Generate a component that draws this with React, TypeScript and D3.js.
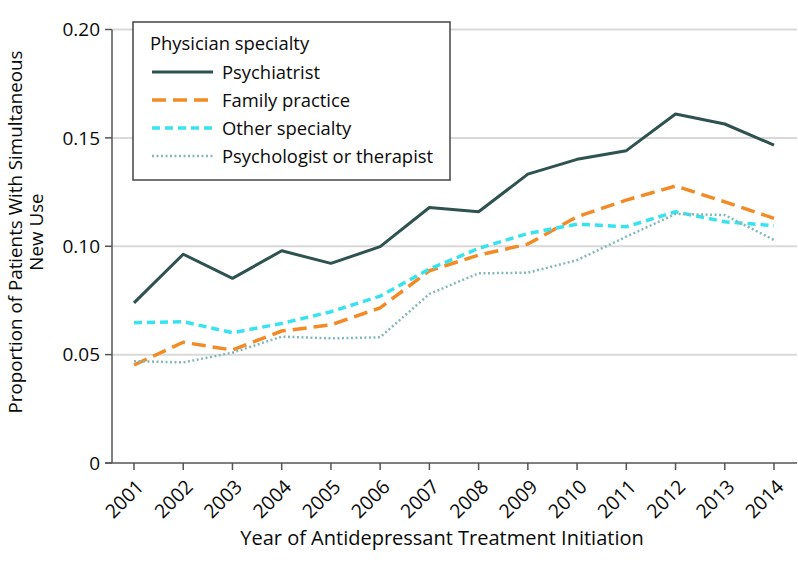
import React from "react";
import * as d3 from "d3";

const years = [2001, 2002, 2003, 2004, 2005, 2006, 2007, 2008, 2009, 2010, 2011, 2012, 2013, 2014];
const psychiatrist = [0.0739, 0.0963, 0.0852, 0.0979, 0.0921, 0.0998, 0.1179, 0.1159, 0.1333, 0.1401, 0.1441, 0.161, 0.1564, 0.1467];
const familyPractice = [0.0452, 0.0557, 0.0521, 0.0609, 0.0637, 0.0716, 0.0887, 0.0959, 0.101, 0.1136, 0.1213, 0.1278, 0.1205, 0.1129];
const otherSpecialty = [0.0647, 0.0652, 0.0601, 0.0644, 0.0698, 0.077, 0.0895, 0.099, 0.1059, 0.1102, 0.109, 0.1159, 0.1113, 0.1095];
const psychologist = [0.047, 0.0464, 0.0509, 0.0583, 0.0575, 0.058, 0.078, 0.0875, 0.0878, 0.0936, 0.1044, 0.1149, 0.1144, 0.1029];
const yTicks = [0, 0.05, 0.1, 0.15, 0.2];
const yTickLabels = ["0", "0.05", "0.10", "0.15", "0.20"];
const seriesNames = ["Psychiatrist", "Family practice", "Other specialty", "Psychologist or therapist"];

const FONT = "'Open Sans', 'Liberation Sans', Arial, sans-serif";

const styles = [
  { color: "#2e524f", width: 3, dash: "" },
  { color: "#f28a26", width: 3.5, dash: "14 7" },
  { color: "#36e3ee", width: 3.5, dash: "8 5" },
  { color: "#82b9b8", width: 2.5, dash: "2 2.5" },
];

export default function App() {
  const W = 798, H = 567;
  const x = d3.scaleLinear().domain([2001, 2014]).range([134, 774]);
  const y = d3.scaleLinear().domain([0, 0.2]).range([463, 29.5]);
  const line = d3
    .line<number>()
    .x((_, i) => x(years[i]))
    .y((d) => y(d));
  const series = [psychiatrist, familyPractice, otherSpecialty, psychologist];
  const axisColor = "#555";
  const textColor = "#0a0a0a";

  const legX = 133, legY = 22, legW = 317, legH = 158;

  return (
    <svg width={W} height={H} style={{ position: "absolute", left: 0, top: 0, background: "#fff" }} fontFamily={FONT}>
      {/* gridlines */}
      {yTicks.slice(1).map((t) => (
        <line key={t} x1={112} x2={797} y1={y(t)} y2={y(t)} stroke="#d9d9d9" strokeWidth={2} />
      ))}
      {/* y ticks */}
      {yTicks.map((t, i) => (
        <g key={"yt" + t}>
          <line x1={105} x2={112} y1={y(t)} y2={y(t)} stroke={axisColor} strokeWidth={1.5} />
          <text x={100} y={y(t)} dy="0.36em" textAnchor="end" fontSize={19} fill={textColor}>
            {yTickLabels[i]}
          </text>
        </g>
      ))}
      {/* axes */}
      <line x1={112} x2={112} y1={y(0.2)} y2={463} stroke={axisColor} strokeWidth={1.5} />
      <line x1={105} x2={797} y1={463} y2={463} stroke={axisColor} strokeWidth={1.5} />
      {/* x ticks */}
      {years.map((yr) => (
        <g key={"xt" + yr}>
          <line x1={x(yr)} x2={x(yr)} y1={463} y2={470} stroke={axisColor} strokeWidth={1.5} />
          <text
            transform={`translate(${x(yr) + 11},${488}) rotate(-45)`}
            textAnchor="end"
            fontSize={19.5}
            fill={textColor}
          >
            {yr}
          </text>
        </g>
      ))}
      {/* lines */}
      {series.map((s, i) => (
        <path
          key={"s" + i}
          d={line(s) || ""}
          fill="none"
          stroke={styles[i].color}
          strokeWidth={styles[i].width}
          strokeDasharray={styles[i].dash}
          strokeLinejoin="round"
        />
      ))}
      {/* legend */}
      <rect x={legX} y={legY} width={legW} height={legH} fill="#fff" stroke="#444" strokeWidth={1.5} />
      <text x={150} y={50} fontSize={18.4} fill={textColor}>
        Physician specialty
      </text>
      {seriesNames.map((n, i) => {
        const ly = 72 + i * 28;
        return (
          <g key={"l" + i}>
            <line
              x1={152}
              x2={213}
              y1={ly}
              y2={ly}
              stroke={styles[i].color}
              strokeWidth={styles[i].width}
              strokeDasharray={styles[i].dash}
            />
            <text x={222} y={ly} dy="0.36em" fontSize={18.4} fill={textColor}>
              {n}
            </text>
          </g>
        );
      })}
      {/* axis titles */}
      <text x={442} y={545} textAnchor="middle" fontSize={20} fill={textColor}>
        Year of Antidepressant Treatment Initiation
      </text>
      <text transform="translate(22,232) rotate(-90)" textAnchor="middle" fontSize={18.8} fill={textColor}>
        <tspan x={0} dy={0}>Proportion of Patients With Simultaneous</tspan>
        <tspan x={0} dy={21}>New Use</tspan>
      </text>
    </svg>
  );
}
